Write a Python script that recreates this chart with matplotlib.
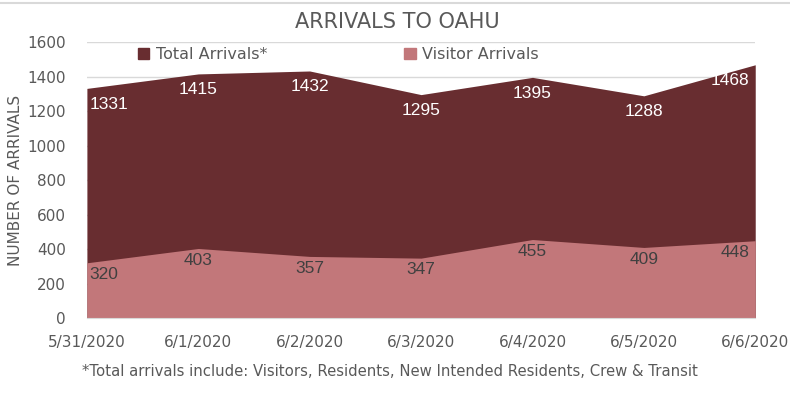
import matplotlib.pyplot as plt
from matplotlib.patches import Patch
from matplotlib.lines import Line2D

dates = ['5/31/2020', '6/1/2020', '6/2/2020', '6/3/2020', '6/4/2020', '6/5/2020', '6/6/2020']
total_arrivals = [1331, 1415, 1432, 1295, 1395, 1288, 1468]
visitor_arrivals = [320, 403, 357, 347, 455, 409, 448]

dark = '#682D30'
light = '#C2777A'
grey = '#595959'

plt.rcParams['font.family'] = ['DejaVu Sans']

fig = plt.figure(figsize=(7.9, 4), dpi=100)
ax = fig.add_axes([0.110, 0.205, 0.846, 0.69])

x = list(range(len(dates)))
ax.fill_between(x, 0, total_arrivals, color=dark, linewidth=0, zorder=2)
ax.fill_between(x, 0, visitor_arrivals, color=light, linewidth=0, zorder=3)

ax.set_xlim(0, len(dates) - 1)
ax.set_ylim(0, 1600)
ax.set_yticks(range(0, 1601, 200))
ax.set_xticks(x)
ax.set_xticklabels(dates)
ax.tick_params(axis='both', length=0, labelsize=11, colors=grey)
ax.tick_params(axis='x', pad=12)
ax.tick_params(axis='y', pad=15)
ax.grid(axis='y', color='#D9D9D9', linewidth=1, zorder=1)
for s in ['top', 'right', 'left']:
    ax.spines[s].set_visible(False)
ax.spines['bottom'].set_color('#D9D9D9')
ax.spines['bottom'].set_zorder(4)

ax.set_ylabel('NUMBER OF ARRIVALS', fontsize=11, color=grey, labelpad=3)

# data labels
n = len(dates)
for i in x:
    if i == 0:
        ha, dx = 'left', 2
    elif i == n - 1:
        ha, dx = 'right', -4
    else:
        ha, dx = 'center', 0
    ax.annotate(str(total_arrivals[i]), (i, total_arrivals[i]), xytext=(dx, -6),
                textcoords='offset points', ha=ha, va='top', color='white',
                fontsize=12.5, family='Liberation Sans', zorder=5)
    ax.annotate(str(visitor_arrivals[i]), (i, visitor_arrivals[i]), xytext=(dx, -3),
                textcoords='offset points', ha=ha, va='top', color='#404040',
                fontsize=12.5, family='Liberation Sans', zorder=5)

handles = [Patch(color=dark), Patch(color=light)]
ax.legend(handles, ['Total Arrivals*', 'Visitor Arrivals'], ncol=2, frameon=False,
          loc='upper left', bbox_to_anchor=(0.055, 1.035), fontsize=11.5,
          labelcolor=grey, handlelength=0.7, handleheight=0.7, handletextpad=0.4,
          columnspacing=8.6)

fig.text(0.503, 0.945, 'ARRIVALS TO OAHU', ha='center', va='center', fontsize=15, color=grey)
fig.text(0.104, 0.072, '*Total arrivals include: Visitors, Residents, New Intended Residents, Crew & Transit',
         ha='left', va='center', fontsize=10.7, color=grey)

fig.add_artist(Line2D([0, 1], [0.993, 0.993], color='#D9D9D9', linewidth=1.5, transform=fig.transFigure))

fig.savefig('out.png', dpi=100)
